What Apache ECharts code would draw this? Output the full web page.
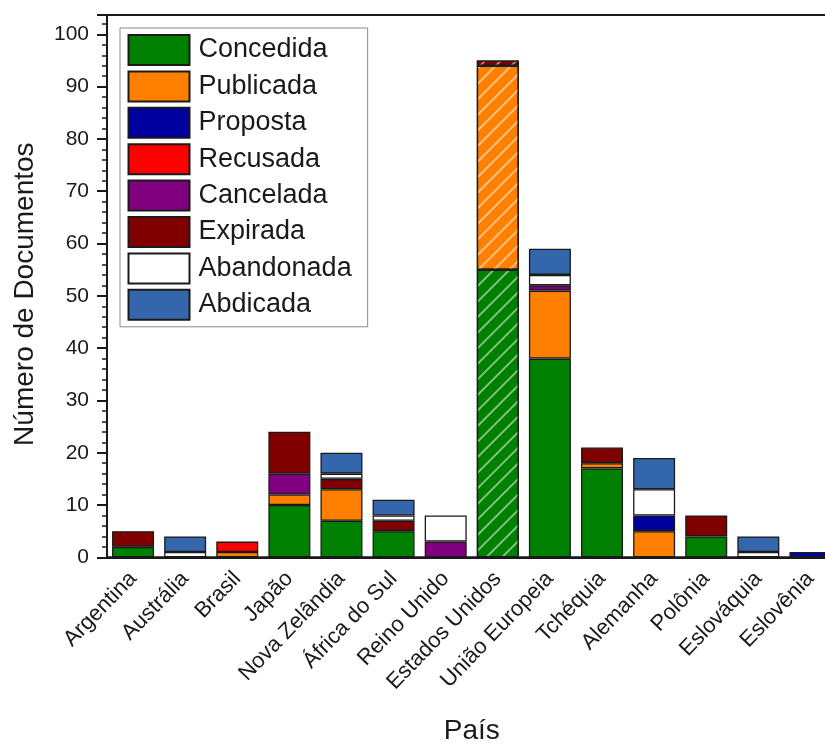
<!DOCTYPE html>
<html>
<head>
<meta charset="utf-8">
<script src="https://cdn.jsdelivr.net/npm/echarts@6/dist/echarts.min.js"></script>
<style>
  html, body { margin: 0; padding: 0; background: #ffffff; }
  #chart { width: 825px; height: 744px; }
</style>
</head>
<body>
<div id="chart"></div>
<script>
// Countries on the horizontal axis
const paises = ['Argentina', 'Austrália', 'Brasil', 'Japão', 'Nova Zelândia', 'África do Sul',
  'Reino Unido', 'Estados Unidos', 'União Europeia', 'Tchéquia', 'Alemanha', 'Polônia',
  'Eslováquia', 'Eslovênia'];

// Document counts per status (stacked bottom to top in this order)
const concedida  = [2, 0, 0, 10, 7, 5, 0, 55, 38, 17, 0, 4, 0, 0];
const publicada  = [0, 0, 1, 2, 6, 0, 0, 39, 13, 1, 5, 0, 0, 0];
const proposta   = [0, 0, 0, 0, 0, 0, 0, 0, 0, 0, 3, 0, 0, 1];
const recusada   = [0, 0, 2, 0, 0, 0, 0, 0, 0, 0, 0, 0, 0, 0];
const cancelada  = [0, 0, 0, 4, 0, 0, 3, 0, 1, 0, 0, 0, 0, 0];
const expirada   = [3, 0, 0, 8, 2, 2, 0, 1, 0, 3, 0, 4, 0, 0];
const abandonada = [0, 1, 0, 0, 1, 1, 5, 0, 2, 0, 5, 0, 1, 0];
const abdicada   = [0, 3, 0, 0, 4, 3, 0, 0, 5, 0, 6, 0, 3, 0];

const yTicks = [0, 10, 20, 30, 40, 50, 60, 70, 80, 90, 100];

const statusSeries = [
  { name: 'Concedida',  values: concedida,  color: '#008000' },
  { name: 'Publicada',  values: publicada,  color: '#ff8000' },
  { name: 'Proposta',   values: proposta,   color: '#0000a0' },
  { name: 'Recusada',   values: recusada,   color: '#ff0000' },
  { name: 'Cancelada',  values: cancelada,  color: '#800080' },
  { name: 'Expirada',   values: expirada,   color: '#800000' },
  { name: 'Abandonada', values: abandonada, color: '#ffffff' },
  { name: 'Abdicada',   values: abdicada,   color: '#3366aa' }
];

// The United States column is drawn with a diagonal hatch
const hatchedCountry = 'Estados Unidos';
const hatch = {
  symbol: 'rect',
  symbolSize: 1,
  dashArrayX: [1, 0],
  dashArrayY: [1.5, 9],
  rotation: -Math.PI / 4,
  color: 'rgba(255,255,255,0.5)'
};

const FONT = 'Liberation Sans, Arial, sans-serif';
const INK = '#1a1a1a';

const series = statusSeries.map(s => ({
  name: s.name,
  type: 'bar',
  stack: 'total',
  barWidth: 42,
  itemStyle: { color: s.color, borderColor: '#1a1a1a', borderWidth: 1.3 },
  emphasis: { disabled: true },
  data: s.values.map((v, i) => {
    if (!v) return '-';
    if (paises[i] === hatchedCountry) {
      return { value: v, itemStyle: { decal: hatch } };
    }
    return v;
  })
}));

const chart = echarts.init(document.getElementById('chart'), null, { renderer: 'canvas' });
chart.setOption({
  animation: false,
  backgroundColor: '#ffffff',
  textStyle: { fontFamily: FONT },
  grid: {
    left: 107, top: 15, width: 729.5, bottom: 186.7,
    outerBoundsMode: 'none',
    containLabel: false,
    show: true, borderColor: INK, borderWidth: 2, backgroundColor: 'transparent'
  },
  legend: {
    orient: 'vertical',
    left: 120, top: 28,
    padding: [6, 16, 6, 7.5],
    itemWidth: 61, itemHeight: 30, itemGap: 4.4,
    borderColor: '#8a8a8a', borderWidth: 1,
    backgroundColor: '#ffffff',
    selectedMode: false,
    textStyle: { fontFamily: FONT, fontSize: 27, color: INK, padding: [0, 0, 0, 4] },
    data: statusSeries.map(s => ({ name: s.name, icon: 'rect' }))
  },
  xAxis: {
    type: 'category',
    data: paises,
    name: 'País',
    nameLocation: 'middle',
    nameGap: 160,
    nameTextStyle: { fontFamily: FONT, fontSize: 28, color: INK },
    axisLine: { lineStyle: { color: INK, width: 2 } },
    axisTick: { alignWithLabel: true, length: 10, lineStyle: { color: INK, width: 2 } },
    axisLabel: { rotate: 46, fontFamily: FONT, fontSize: 22, color: INK, margin: 18, interval: 0 },
    splitLine: { show: false }
  },
  yAxis: {
    type: 'value',
    min: 0, max: 103.7, interval: 10,
    name: 'Número de Documentos',
    nameLocation: 'middle',
    nameGap: 68,
    nameTextStyle: { fontFamily: FONT, fontSize: 28, color: INK, padding: [0, 16, 0, 0] },
    axisLine: { show: true, lineStyle: { color: INK, width: 2 } },
    axisTick: { show: true, length: 10, lineStyle: { color: INK, width: 2 } },
    minorTick: { show: true, splitNumber: 5, length: 5, lineStyle: { color: INK, width: 1.5 } },
    axisLabel: {
      fontFamily: FONT, fontSize: 21, color: INK, margin: 18,
      formatter: v => (yTicks.indexOf(v) >= 0 ? String(v) : '')
    },
    splitLine: { show: false }
  },
  series: series
});
</script>
</body>
</html>
